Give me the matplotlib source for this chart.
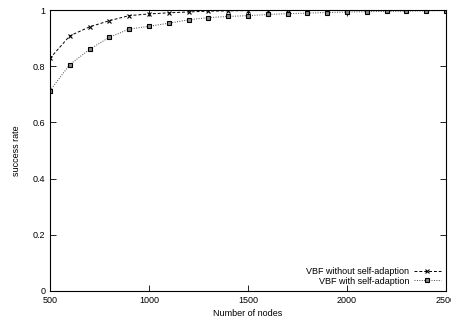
import numpy as np
import matplotlib.pyplot as plt

plt.rcParams['font.family'] = ['Liberation Sans', 'DejaVu Sans']

nodes = [500, 600, 700, 800, 900, 1000, 1100, 1200, 1300, 1400, 1500,
         1600, 1700, 1800, 1900, 2000, 2100, 2200, 2300, 2400, 2500]
without_adapt = [0.828, 0.908, 0.940, 0.962, 0.980, 0.986, 0.990, 0.993, 0.996, 0.997, 0.998,
                 0.998, 0.999, 0.999, 0.999, 0.999, 1.0, 1.0, 1.0, 1.0, 1.0]
with_adapt = [0.713, 0.806, 0.860, 0.903, 0.932, 0.942, 0.953, 0.965, 0.973, 0.977, 0.980,
              0.984, 0.987, 0.989, 0.991, 0.993, 0.994, 0.995, 0.996, 0.997, 0.998]

fig = plt.figure(figsize=(4.51, 3.25), dpi=100)
ax = fig.add_axes([50 / 451, 34 / 325, 396 / 451, 281 / 325])

ax.plot(nodes, without_adapt, color='black', linestyle=(0, (3, 2)), linewidth=0.7,
        marker='x', markersize=3, markeredgewidth=0.8, label='VBF without self-adaption')
ax.plot(nodes, with_adapt, color='#444444', linestyle=(0, (1, 1.5)), linewidth=0.7,
        marker='s', markersize=3.5, markerfacecolor='#888888', markeredgecolor='black',
        markeredgewidth=0.8, label='VBF with self-adaption')

ax.set_xlim(500, 2500)
ax.set_ylim(0, 1)
ax.set_xticks([500, 1000, 1500, 2000, 2500])
ax.set_yticks([0, 0.2, 0.4, 0.6, 0.8, 1])
ax.set_yticklabels(['0', '0.2', '0.4', '0.6', '0.8', '1'])
ax.tick_params(direction='in', top=True, right=True, labelsize=6.5, length=4, width=0.6)
for s in ax.spines.values():
    s.set_linewidth(0.8)

ax.set_xlabel('Number of nodes', fontsize=6.5, labelpad=3)
ax.set_ylabel('success rate', fontsize=6.5, labelpad=8)

ax.legend(loc='lower right', frameon=False, markerfirst=False, fontsize=6.5,
          handlelength=3, handletextpad=0.5, labelspacing=0.1, borderaxespad=0.2)

plt.savefig('out.png', dpi=100)
